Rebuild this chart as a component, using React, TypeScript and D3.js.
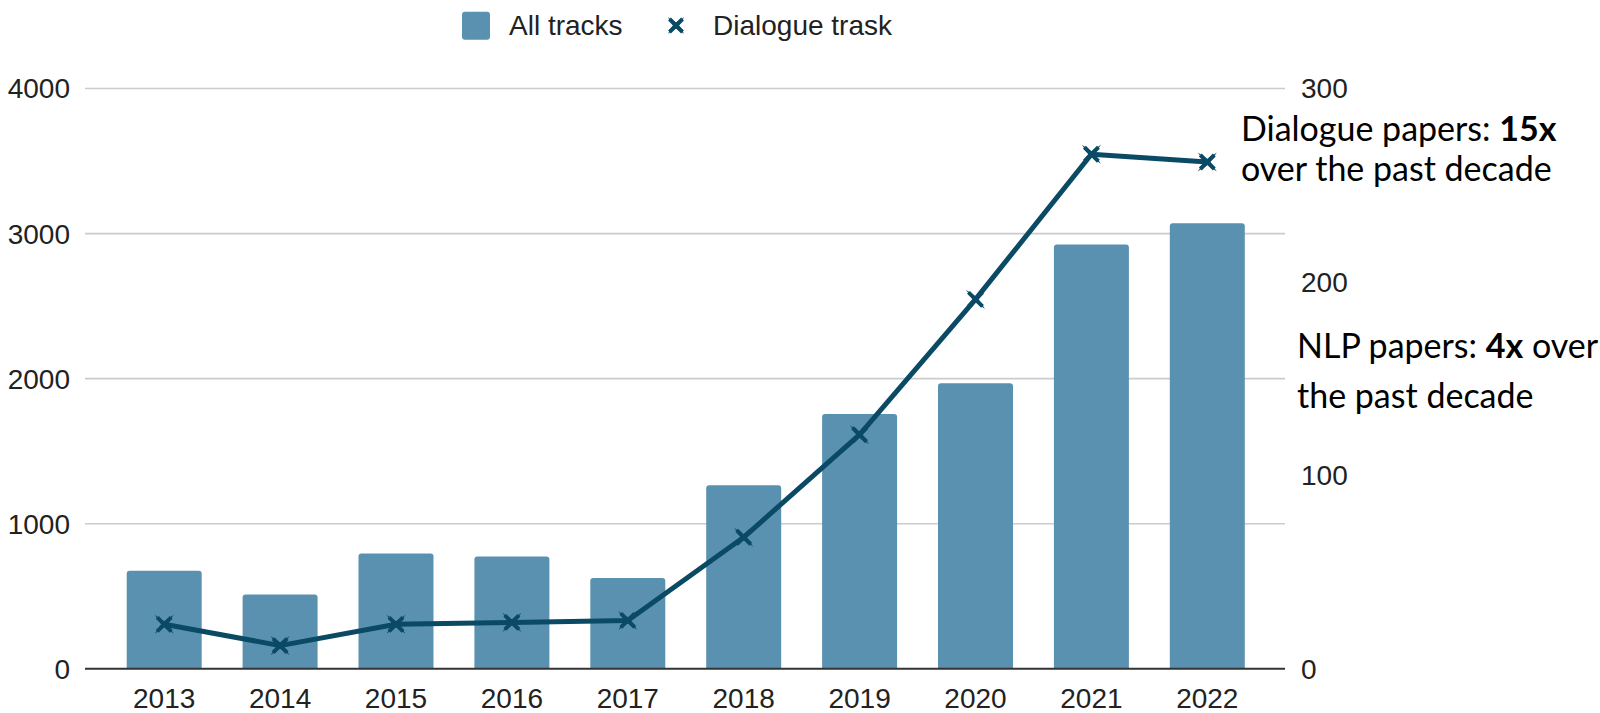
import React from "react";
import * as d3 from "d3";

const years = ["2013", "2014", "2015", "2016", "2017", "2018", "2019", "2020", "2021", "2022"];
const allTracks = [675, 513, 795, 774, 626, 1266, 1757, 1968, 2925, 3072];
const dialogue = [23, 12, 23, 24, 25, 68, 121, 191, 266, 262];
const leftTicks = [0, 1000, 2000, 3000, 4000];
const rightTicks = [0, 100, 200, 300];

const W = 1600;
const H = 713;
const gridLeft = 85;
const gridRight = 1285;
const top = 88.5;
const bottom = 668.8;

const BAR = "#5a91b0";
const LINE = "#0b4a64";
const FONT = "'Liberation Sans', Arial, sans-serif";
const AFONT = "Lato, 'Open Sans', sans-serif";

function Marker({ x, y, r, arm, w }: { x: number; y: number; r: number; arm: number; w: number }) {
  const pts: [number, number][] = [];
  for (let k = 0; k < 8; k++) {
    const a = (Math.PI / 4) * k + Math.PI / 4;
    const rad = k % 2 === 0 ? r : 3;
    pts.push([x + rad * Math.cos(a), y + rad * Math.sin(a)]);
  }
  return (
    <g>
      <path d={"M" + pts.map((p) => p.join(",")).join("L") + "Z"} fill={LINE} />
      <path
        d={`M${x - arm},${y - arm}L${x + arm},${y + arm}M${x - arm},${y + arm}L${x + arm},${y - arm}`}
        stroke={LINE}
        strokeWidth={w}
        fill="none"
      />
    </g>
  );
}

export default function App() {
  const x = d3.scaleBand<string>().domain(years).range([126.7, 1244.8]).paddingInner(0.353).paddingOuter(0);
  const yL = d3.scaleLinear().domain([0, 4000]).range([bottom, top]);
  const yR = d3.scaleLinear().domain([0, 300]).range([bottom, top]);
  const bw = x.bandwidth();
  const cx = (yr: string) => (x(yr) as number) + bw / 2;

  const line = d3
    .line<number>()
    .x((_, i) => cx(years[i]))
    .y((d) => yR(d));

  const barPath = (x0: number, y0: number, w: number, h: number, r: number) =>
    `M${x0},${y0 + h}V${y0 + r}Q${x0},${y0} ${x0 + r},${y0}H${x0 + w - r}Q${x0 + w},${y0} ${x0 + w},${y0 + r}V${y0 + h}Z`;

  return (
    <svg
      width={W}
      height={H}
      style={{ position: "fixed", left: 0, top: 0, background: "#fff" }}
      xmlns="http://www.w3.org/2000/svg"
    >
      <rect x={0} y={0} width={W} height={H} fill="#fff" />
      {leftTicks
        .filter((t) => t !== 0)
        .map((t) => (
          <line key={t} x1={gridLeft} x2={gridRight} y1={yL(t)} y2={yL(t)} stroke="#cccccc" strokeWidth={1.6} />
        ))}
      {allTracks.map((v, i) => {
        const x0 = x(years[i]) as number;
        const y0 = yL(v);
        return <path key={years[i]} d={barPath(x0, y0, bw, bottom - y0, 3)} fill={BAR} />;
      })}
      <line x1={gridLeft} x2={gridRight} y1={bottom} y2={bottom} stroke="#333" strokeWidth={2} />
      <path d={line(dialogue) || ""} fill="none" stroke={LINE} strokeWidth={5} strokeLinejoin="round" />
      {dialogue.map((v, i) => (
        <Marker key={i} x={cx(years[i])} y={yR(v)} r={13.5} arm={7} w={4} />
      ))}
      {leftTicks.map((t) => (
        <text key={t} x={70} y={yL(t)} dy="0.355em" textAnchor="end" fontFamily={FONT} fontSize={28} fill="#222">
          {t}
        </text>
      ))}
      {rightTicks.map((t) => (
        <text key={t} x={1301} y={yR(t)} dy="0.355em" textAnchor="start" fontFamily={FONT} fontSize={28} fill="#222">
          {t}
        </text>
      ))}
      {years.map((yr) => (
        <text key={yr} x={cx(yr)} y={708} textAnchor="middle" fontFamily={FONT} fontSize={28} fill="#222">
          {yr}
        </text>
      ))}
      <rect x={462} y={11.7} width={28} height={28} rx={3} fill={BAR} />
      <text x={509} y={25.5} dy="0.355em" fontFamily={FONT} fontSize={28} fill="#222">
        All tracks
      </text>
      <Marker x={676} y={25.5} r={11.5} arm={6.5} w={4} />
      <text x={713} y={25.5} dy="0.355em" fontFamily={FONT} fontSize={28} fill="#222">
        Dialogue trask
      </text>
      <text x={1241} y={141} fontFamily={AFONT} fontSize={34} fill="#000">
        Dialogue papers: <tspan fontWeight="bold">15x</tspan>
      </text>
      <text x={1241} y={181} fontFamily={AFONT} fontSize={34} fill="#000">
        over the past decade
      </text>
      <text x={1297} y={358} fontFamily={AFONT} fontSize={34} fill="#000">
        NLP papers: <tspan fontWeight="bold">4x</tspan> over
      </text>
      <text x={1297} y={408} fontFamily={AFONT} fontSize={34} fill="#000">
        the past decade
      </text>
    </svg>
  );
}
